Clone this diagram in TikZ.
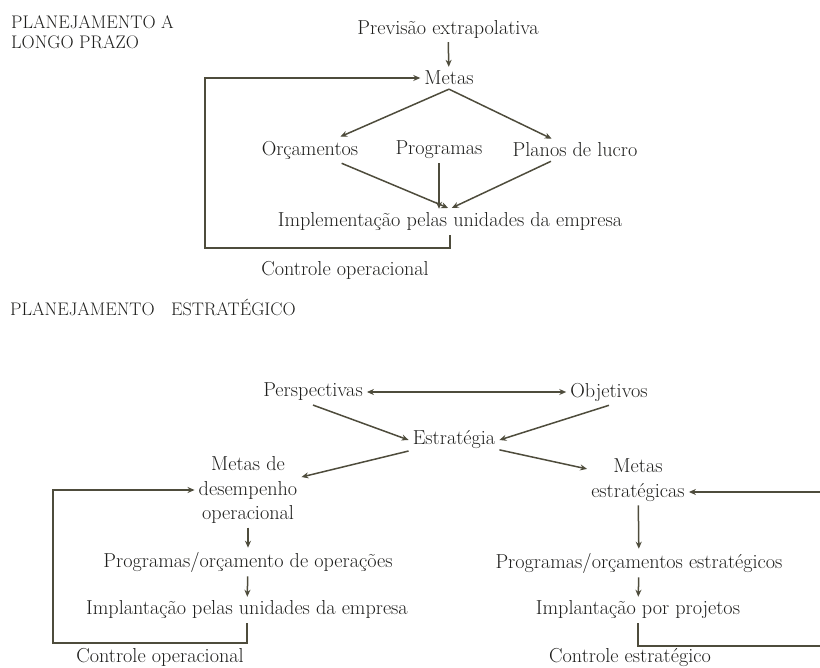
\documentclass[tikz,border=0pt]{standalone}
\usepackage{tikz}
\usepackage{xcolor}
\usetikzlibrary{arrows.meta}
\definecolor{linha}{RGB}{78,76,60}
\definecolor{txt}{RGB}{30,30,28}

\begin{document}
\begin{tikzpicture}[x=1pt,y=-1pt,
    every node/.style={font=\fontsize{20.2}{24.5}\selectfont, text=txt, inner sep=4pt},
    titulo/.style={font=\fontsize{18.2}{20}\selectfont, anchor=west, align=left, inner sep=0pt},
    seta/.style={draw=linha, line width=1.5pt, -{Stealth[length=7pt,width=6pt]}}]
      \clip (0,0) rectangle (820,668);
      \node[titulo] (T1) at (11,32) {PLANEJAMENTO A\\LONGO PRAZO};
      \node (prev) at (448,29) {Previsão extrapolativa};
      \node (metas) at (449,78) {Metas};
      \node (orc) at (310,150) {Orçamentos};
      \node (prog) at (439,150) {Programas};
      \node (planos) at (575,150) {Planos de lucro};
      \node (impl) at (450,222) {Implementação pelas unidades da empresa};
      \node (ctop) at (345,270) {Controle operacional};
      \coordinate (fbA) at (205,248);
      \draw[seta] (prev) -- (metas);
      \draw[seta] (metas.south) -- (orc);
      \draw[seta] (metas.south) -- (planos);
      \draw[seta, shorten >=2pt] (orc) -- (impl.north);
      \draw[seta] (prog.south) -- (prog.south |- impl.north);
      \draw[seta, shorten >=2pt] (planos) -- (impl.north);
      \draw[seta] (impl.south) |- (fbA) |- (metas.west);

      \node[titulo] (T2) at (10,308) {PLANEJAMENTO\ \ \ ESTRATÉGICO};
      \node (persp) at (313,392) {Perspectivas};
      \node (obj) at (609,392) {Objetivos};
      \node (estr) at (454,440) {Estratégia};
      \node[align=center] (metasop) at (248,490) {Metas de\\desempenho\\operacional};
      \node[align=center] (metasest) at (638,480) {Metas\\estratégicas};
      \node (progop) at (248,562) {Programas/orçamento de operações};
      \node (implop) at (247,610) {Implantação pelas unidades da empresa};
      \node (ctop2) at (160,657) {Controle operacional};
      \node (progest) at (639,563) {Programas/orçamentos estratégicos};
      \node (implproj) at (638,610) {Implantação por projetos};
      \node (ctest) at (630,657) {Controle estratégico};
      \coordinate (fbB) at (53,643);
      \coordinate (fbC) at (840,646);
      \draw[seta, {Stealth[length=7pt,width=6pt]}-{Stealth[length=7pt,width=6pt]}] (persp) -- (obj);
      \draw[seta] (persp.south) -- (estr.west);
      \draw[seta] (obj.south) -- (estr.east);
      \draw[seta] (estr) -- (metasop);
      \draw[seta] (estr) -- (metasest);
      \draw[seta] (metasop) -- (progop);
      \draw[seta] (progop) -- (implop);
      \draw[seta] (metasest) -- (progest);
      \draw[seta] (progest) -- (implproj);
      \draw[seta] (implop.south) |- (fbB) |- (metasop.west);
      \draw[seta] (implproj.south) |- (fbC) |- ([yshift=-12pt]metasest.east);
    \end{tikzpicture}
\end{document}
